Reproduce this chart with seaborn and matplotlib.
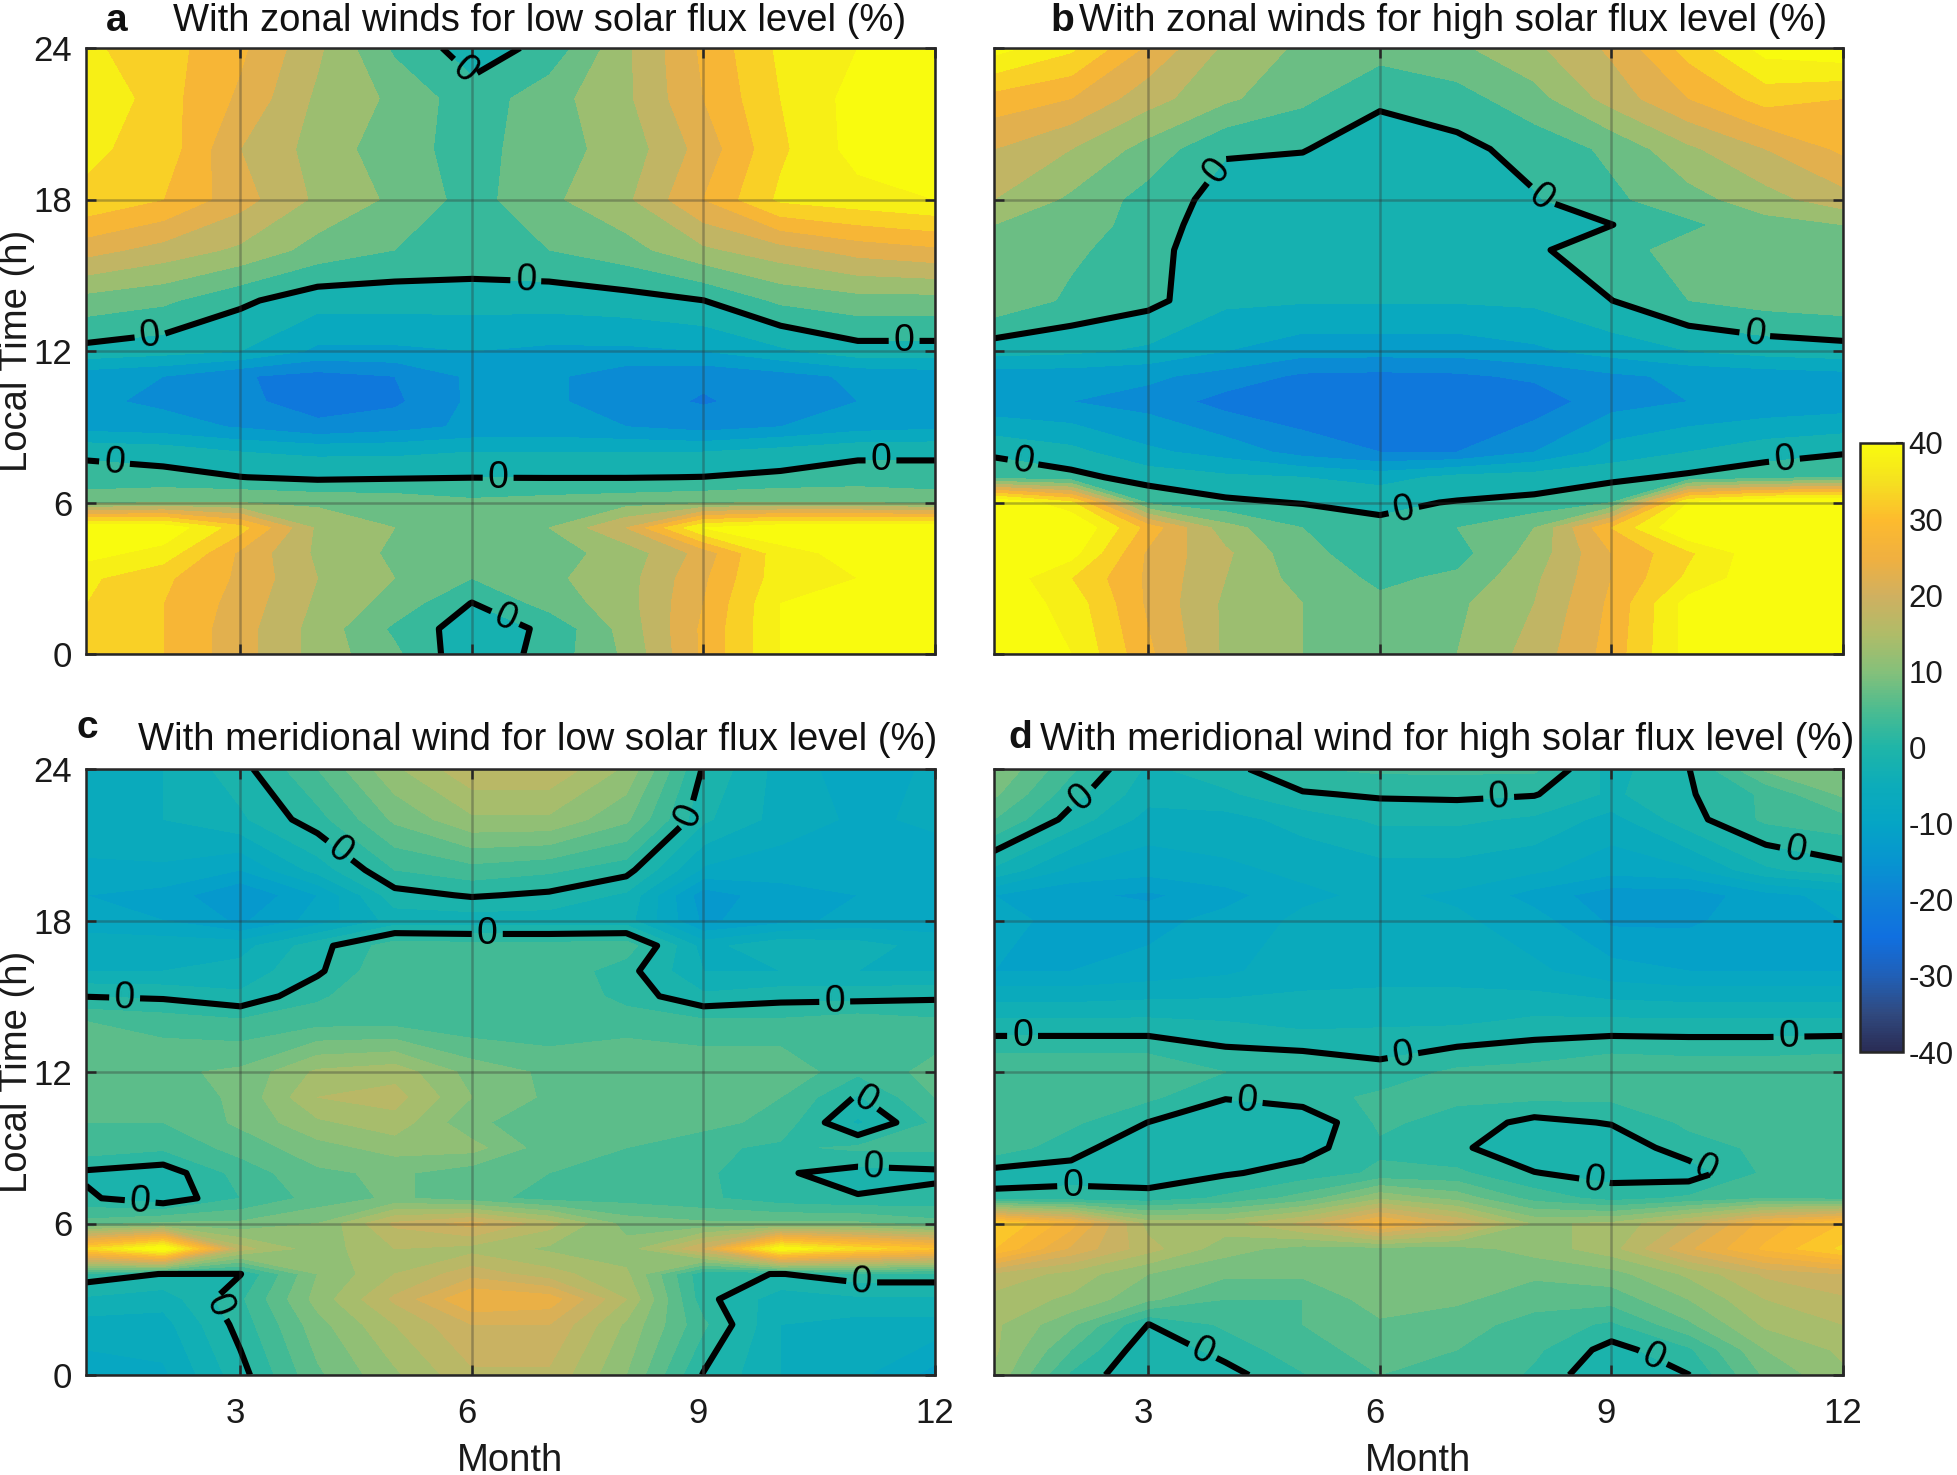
import numpy as np
import matplotlib
matplotlib.use("Agg")
import matplotlib.pyplot as plt
import seaborn as sns
from matplotlib.colors import Normalize
from matplotlib.cm import ScalarMappable
from matplotlib.transforms import ScaledTranslation

MONTHS = list(range(1, 13))

HOURS_A = [0, 1, 2, 3, 4, 5, 6, 7, 8, 9, 10, 11, 12, 14, 16, 18, 20, 22, 24]
PANEL_A = [
    [34, 30, 22, 13, 6, -4, 2, 11, 26, 40, 44, 44],
    [34, 30, 22, 13, 4, -3, 1, 12, 26, 40, 44, 44],
    [35, 30, 23, 14, 8, -0.2, 7, 13, 25, 40, 44, 44],
    [36, 31, 24, 15, 10, 5, 9, 13, 24, 38, 40, 40],
    [42, 38, 24, 14, 9, 6, 8, 12, 22, 38, 42, 42],
    [44, 44, 32, 14, 10, 6, 10, 20, 40, 44, 44, 44],
    [8, 10, 10, 9, 8, 6, 7, 8, 9, 10, 10, 8],
    [2, 1.5, 0.1, -1, -0.5, -0.1, -0.2, -0.2, 0.1, 1, 2, 2],
    [-1, -2, -5, -6, -6, -5, -5, -5, -5, -3, -1, -1],
    [-12, -13, -15.5, -19, -17, -14, -13.5, -15, -17, -15, -12, -11],
    [-14, -16, -19, -22, -21, -14, -14, -18, -20.5, -18, -15, -14],
    [-13, -15, -19.5, -22, -20, -14, -14, -18, -19, -17, -14, -13],
    [-1.5, -3, -5, -11, -11, -10, -11, -11, -10, -6, -2, -2],
    [8, 6, 1, -3, -3, -3, -3, -2, -0.05, 6, 8, 8],
    [22, 18, 14, 8, 5, 4, 5, 8, 14, 18, 22, 24],
    [34, 30, 22, 14, 9, 3, 9, 14, 25, 36, 38, 40],
    [36, 33, 20, 13, 7, 3, 8, 12, 22, 34, 42, 42],
    [40, 32, 24, 14, 9, 2, 8, 14, 25, 35, 42, 44],
    [36, 32, 26, 16, 4, -2.5, 1.5, 14, 26, 36, 40, 40],
]

HOURS_B = [0, 2, 3, 4, 5, 6, 7, 8, 10, 11, 12, 14, 16, 17, 18, 20, 22, 24]
PANEL_B = [
    [44, 40, 26, 14, 10, 8, 10, 17, 27, 42, 44, 44],
    [44, 38, 24, 14, 10, 6, 9, 15, 26, 42, 44, 44],
    [44, 35, 24, 15, 8, 4, 6, 14, 25, 36, 44, 44],
    [44, 42, 24, 16, 6, 3, 3, 12, 25, 34, 44, 44],
    [46, 46, 28, 12, 5, 1, 5, 10, 30, 46, 46, 46],
    [46, 36, 4, 1, -0.3, -1, 0.3, 1.2, 5, 40, 46, 46],
    [3, 1.5, -2, -4, -5, -7, -3.5, -2.5, -1.3, 1, 3, 5],
    [-0.8, -3.5, -9, -12, -17, -20, -20, -15, -8, -5, -2, -0.5],
    [-14, -15, -17, -22, -24, -25, -25, -23, -17, -15, -14, -13],
    [-13, -13, -14, -17, -21, -21.5, -21, -19, -16, -14, -13, -12],
    [-3, -4, -6, -10, -13, -13, -13, -11, -8, -5, -3, -2],
    [9, 4, 1.5, -4, -4.5, -4.5, -4.5, -4, -0.05, 5, 7, 8],
    [8, 6, 2, -4, -4, -4, -4, -0.8, 3, 7, 8, 9],
    [10, 8, 2.5, -3, -4, -4.5, -4, -0.3, -0.1, 4, 8, 10],
    [15, 9, 3, -2, -4, -4.5, -3, -0.5, 4, 8, 13, 18],
    [20, 15, 8, 0.5, 0.3, -3, -1.5, 2, 6, 14, 20, 26],
    [28, 25, 17, 11, 6, 1, 3, 8, 17, 25, 32, 30],
    [42, 36, 24, 14, 9, 7, 9, 14, 21, 32, 42, 44],
]

HOURS_C = [0, 2, 3, 4, 5, 6, 7, 8, 9, 10, 11, 12, 14, 15, 16, 17, 18, 19, 20, 22, 24]
PANEL_C = [
    [-9, -8, -1, 7, 12, 17, 17, 10, -0.2, -5, -7, -11],
    [-6, -6, 1, 9, 15, 20, 20, 12, 3, -5, -6, -6],
    [-3, -4, 2, 11, 18, 25, 24, 15, 1, -4, -3, -3],
    [1.5, -0.1, -0.1, 10, 15, 19, 16, 13, 0.6, -0.1, 1.5, 1.5],
    [33, 42, 16, 11, 15, 14, 12, 11, 20, 40, 34, 30],
    [6, 8, 8, 10, 18, 21, 16, 9, 8, 8, 8, 6],
    [0.5, -2, 2.5, 6, 8, 6, 4, 4, 3, 1, 0.2, 0.7],
    [-0.5, -1.5, 3.5, 7, 8, 6, 5, 4, 3, 0.3, -1, -0.5],
    [4, 3, 6, 9, 11, 11, 6, 5, 3, 2, 3, 3],
    [5, 5, 8, 12, 14, 8, 6, 6, 6, 4, -3, 3],
    [6, 6, 8, 15, 16, 10, 7, 7, 7, 5, -0.3, 5],
    [7, 7, 8, 13, 14, 9, 7, 7, 7, 7, 3, 6],
    [5, 4, 3, 4, 4, 3, 3, 4, 3, 3, 4, 3],
    [-0.1, -0.5, -2, 2, 5, 5, 5, 1.5, -2, -1, -1, -0.5],
    [-5, -5, -4, -0.5, 5, 4.5, 4.5, 1, -5, -5, -5, -5],
    [-6, -6, -6, -1, 4, 3.5, 3.5, 4, -6, -3, -4, -6],
    [-9, -10, -13, -9, -4, -4, -4, -4, -13, -11, -9, -9],
    [-10, -11, -15, -10, -1, 0.3, -0.5, -3, -14, -11, -10, -10],
    [-8, -8, -10, -4, 2.5, 4, 3, 1, -8, -9, -9, -9],
    [-6, -5, -3, 1.5, 8, 12, 12, 8, -2, -6, -8, -7],
    [-7, -5, -1, 5, 12, 17, 17, 12, -0.3, -6, -9, -7],
]

HOURS_D = [0, 1, 2, 3, 4, 5, 6, 7, 8, 9, 10, 11, 12, 14, 16, 18, 19, 20, 22, 23, 24]
PANEL_D = [
    [12, 2, -2.5, -1, 2.3, 5, 5, 2, -2.4, -0.05, 8, 12],
    [13, 5, -2, 1, 4, 6, 5, 3, -1, 2, 10, 13],
    [13, 8, -0.05, 3, 5, 7, 6, 4, 2, 7, 13, 15],
    [14, 12, 8, 5, 5, 9, 8, 6, 6, 10, 15, 17],
    [17, 14, 10, 8, 8, 10, 9, 8, 9, 13, 18, 20],
    [30, 22, 16, 11, 9, 9, 9, 11, 14, 22, 28, 33],
    [33, 26, 14, 14, 18, 26, 20, 12, 13, 18, 26, 30],
    [0.6, 1, 1, 3, 6, 12, 9, 4, 1.5, 3, 5, 4],
    [-1, -1, -1.5, -0.3, 1, 3, 3, 0.1, -1, -1.5, 3, 3],
    [4, 1, -2, -2.4, -1, 2, 0.5, -2, -2, 1.5, 3, 3],
    [3, 3, -0.05, -2.4, -2.4, 3, 1.5, -0.8, 0.2, 3, 3, 3],
    [4, 4, 3, 0.2, 1.5, 3, 3, 3, 3, 3, 4, 4],
    [5, 5, 5, 2.5, 2.5, 1, 3, 3.5, 5, 4.5, 4.5, 5],
    [-2, -2, -2, -2.5, -3.5, -3, -3, -2, -2, -2, -2, -2],
    [-10, -10, -9, -8, -6, -6, -6, -7, -9, -10, -10, -10],
    [-9, -11, -11, -9, -7, -7, -7, -9, -13, -13, -11, -10],
    [-10, -12, -13, -11, -8, -7, -8, -11, -14, -14, -11, -9],
    [-3, -8, -9, -8, -7, -6, -6, -7, -9, -8, -3, -1],
    [5, -1, -6, -6, -4, -2, -2, -3, -6, -1, 3, 4],
    [8, 1, -4, -3, -0.3, 0.4, 0.6, 0.2, -3, -0.3, 3, 8],
    [10, 3, -3, -1, 2.3, 3, 3, 3, -3.5, -0.1, 8, 10],
]

TITLES = ["With zonal winds for low solar flux level (%)",
          "With zonal winds for high solar flux level (%)",
          "With meridional wind for low solar flux level (%)",
          "With meridional wind for high solar flux level (%)"]
LETTERS = ["a", "b", "c", "d"]
XTICKS = [3, 6, 9, 12]
YTICKS = [0, 6, 12, 18, 24]
CBAR_TICKS = list(range(-40, 41, 10))

LABELS_A = [(5.89, 23.07), (6.7, 14.95), (1.83, 12.57), (11.6, 12.1), (1.37, 7.6),
            (6.34, 7.0), (11.3, 7.7), (6.42, 1.34)]
LABELS_B = [(3.83, 19.26), (7.91, 17.6), (10.85, 12.5), (1.37, 7.5), (6.3, 5.8), (11.24, 7.7)]
LABELS_C = [(8.77, 22.2), (4.09, 20), (6.2, 17.3), (1.5, 14.9), (10.7, 14.9), (11.1, 10.9),
            (11.2, 8), (1.7, 6.8), (11.05, 3.65), (2.7, 2.7)]
LABELS_D = [(2.1, 23), (7.54, 22.8), (11.37, 20.6), (1.37, 13.4), (6.3, 12.6), (11.3, 13.4),
            (4.28, 10.8), (2.02, 7.6), (8.78, 7.7), (10.3, 8.7), (3.73, 1.1), (9.53, 0.64)]

COLORS = ["#2a2c55", "#304a80", "#2060b8", "#1070e0", "#0f80d8", "#0795d0", "#05a5c5",
          "#0cacba", "#1fb5a8", "#4cbc90", "#85c07a", "#b0bc68", "#d0b060", "#f0b040",
          "#fdbb2e", "#f5e020", "#f9fb0e"]

sns.set_theme(style="ticks")
plt.rcParams["font.family"] = ["Liberation Sans", "DejaVu Sans"]
plt.rcParams["axes.unicode_minus"] = False
cmap = sns.blend_palette(COLORS, n_colors=256, as_cmap=True)

W, H = 1957, 1475
fig = plt.figure(figsize=(W / 100, H / 100), dpi=100)


def rect(x0, y0, x1, y1):
    return [x0 / W, 1 - y1 / H, (x1 - x0) / W, (y1 - y0) / H]


RECTS = [(86, 48, 935, 654), (994, 48, 1843, 654), (86, 769, 935, 1375), (994, 769, 1843, 1375)]
PANELS = [(HOURS_A, PANEL_A, LABELS_A, 5), (HOURS_B, PANEL_B, LABELS_B, 5),
          (HOURS_C, PANEL_C, LABELS_C, 2.5), (HOURS_D, PANEL_D, LABELS_D, 2.5)]
TITLE_POS = [(540, 21), (1453, 21), (538, 740), (1447, 740)]
LETTER_POS = [(117, 21), (1062, 21), (87, 728), (1020, 738)]

for i, (r, (hours, z, labs, step)) in enumerate(zip(RECTS, PANELS)):
    ax = fig.add_axes(rect(*r))
    levels = np.arange(-40, 40 + step, step)
    ax.contourf(MONTHS, hours, np.array(z, float), levels=levels, cmap=cmap,
                vmin=-40, vmax=40, extend="both")
    cs = ax.contour(MONTHS, hours, np.array(z, float), levels=[0], colors="black", linewidths=4.4)
    ax.clabel(cs, fmt="%d", fontsize=27, inline=True, inline_spacing=5, manual=labs)
    ax.set_xlim(1, 12)
    ax.set_ylim(0, 24)
    ax.set_xticks(XTICKS)
    ax.set_yticks(YTICKS)
    ax.set_axisbelow(False)
    ax.grid(True, color="#303030", alpha=0.35, lw=1.8)
    ax.tick_params(direction="in", length=7, width=1.8, top=True, right=True, color="#262626",
                   labelsize=25, labelcolor="#1a1a1a")
    ax.tick_params(axis="x", pad=16)
    ax.tick_params(axis="y", pad=10)
    for s in ax.spines.values():
        s.set_color("#262626")
        s.set_linewidth(1.8)
    if i < 2:
        ax.set_xticklabels([])
    else:
        ax.set_xlabel("Month", fontsize=27.5, color="#1a1a1a", labelpad=9)
        for t in ax.get_xticklabels()[:3]:
            t.set_transform(t.get_transform() + ScaledTranslation(-0.05, 0, fig.dpi_scale_trans))
    if i % 2:
        ax.set_yticklabels([])
    else:
        ax.set_ylabel("Local Time (h)", fontsize=27.5, color="#1a1a1a")
        ax.yaxis.set_label_coords(-0.06, 0.5)
    fig.text(TITLE_POS[i][0] / W, 1 - TITLE_POS[i][1] / H, TITLES[i], fontsize=27.5,
             ha="center", va="center", color="#111111")
    fig.text(LETTER_POS[i][0] / W, 1 - LETTER_POS[i][1] / H, LETTERS[i], fontsize=28,
             fontweight="bold", ha="center", va="center", color="#111111")

cax = fig.add_axes(rect(1860, 443, 1903, 1052))
sm = ScalarMappable(norm=Normalize(-40, 40), cmap=cmap)
cb = fig.colorbar(sm, cax=cax, ticks=CBAR_TICKS)
cb.ax.tick_params(direction="in", length=5, width=1.5, labelsize=22.5, pad=4,
                  color="#262626", labelcolor="#1a1a1a")
cb.outline.set_edgecolor("#262626")
cb.outline.set_linewidth(1.8)

fig.savefig("out.png", dpi=100)
